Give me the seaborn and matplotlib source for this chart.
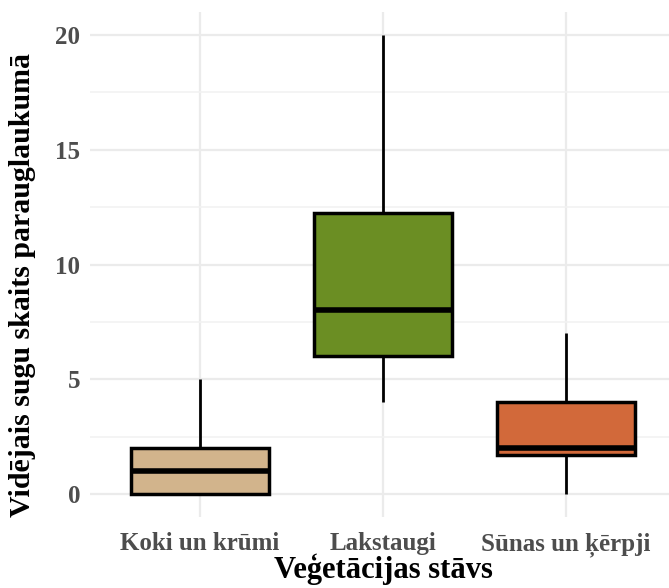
import matplotlib

matplotlib.use("Agg")
import matplotlib.pyplot as plt
import numpy as np
import pandas as pd
import seaborn as sns

# five-number summaries (min, q1, median, q3, max)
kategorijas = ["Koki un krūmi", "Lakstaugi", "Sūnas un ķērpji"]
koki = [0, 0, 1, 2, 5]
lakstaugi = [4, 6, 8, 12.25, 20]
sunas = [0, 1.7, 2, 4, 7]
krasas = ["#D2B48C", "#6B8E23", "#D2693A"]

df = pd.DataFrame(
    {
        "stavs": np.repeat(kategorijas, 5),
        "skaits": koki + lakstaugi + sunas,
    }
)

sns.set_theme(style="whitegrid")
plt.rcParams["font.family"] = ["Liberation Serif", "DejaVu Serif"]

fig = plt.figure(figsize=(6.69, 5.88), dpi=100)
ax = fig.add_axes([90 / 669, 71 / 588, (676 - 90) / 669, (517 - 12) / 588])

sns.boxplot(
    data=df,
    x="stavs",
    y="skaits",
    hue="stavs",
    palette=krasas,
    saturation=1,
    order=kategorijas,
    width=0.75,
    whis=1.5,
    linecolor="black",
    linewidth=2.2,
    showcaps=False,
    medianprops={"linewidth": 4, "color": "black"},
    whiskerprops={"linewidth": 2},
    boxprops={"linewidth": 2.5},
    legend=False,
    ax=ax,
)

ax.set_xlim(-0.6, 2.6)
ax.set_ylim(-1, 21)
ax.set_yticks([0, 5, 10, 15, 20])
ax.set_yticks([2.5, 7.5, 12.5, 17.5], minor=True)
ax.grid(True, which="major", color="#EBEBEB", linewidth=1.6)
ax.grid(True, which="minor", axis="y", color="#F2F2F2", linewidth=1.2)
ax.set_axisbelow(True)
for s in ax.spines.values():
    s.set_visible(False)

ax.tick_params(axis="both", which="both", length=0, labelsize=18, labelcolor="#4D4D4D")
ax.tick_params(axis="x", pad=11)
ax.tick_params(axis="y", pad=7)
for lab in ax.get_xticklabels() + ax.get_yticklabels():
    lab.set_fontweight("bold")

ax.set_xlabel("Veģetācijas stāvs", fontsize=22, fontweight="bold", color="black", va="center")
ax.set_ylabel("Vidējais sugu skaits parauglaukumā", fontsize=21.5, fontweight="bold", color="black")
ax.xaxis.set_label_coords(0.5, -0.103)
ax.yaxis.set_label_coords(-0.092, 0.46)

fig.savefig("out.png", dpi=100, facecolor="white")
